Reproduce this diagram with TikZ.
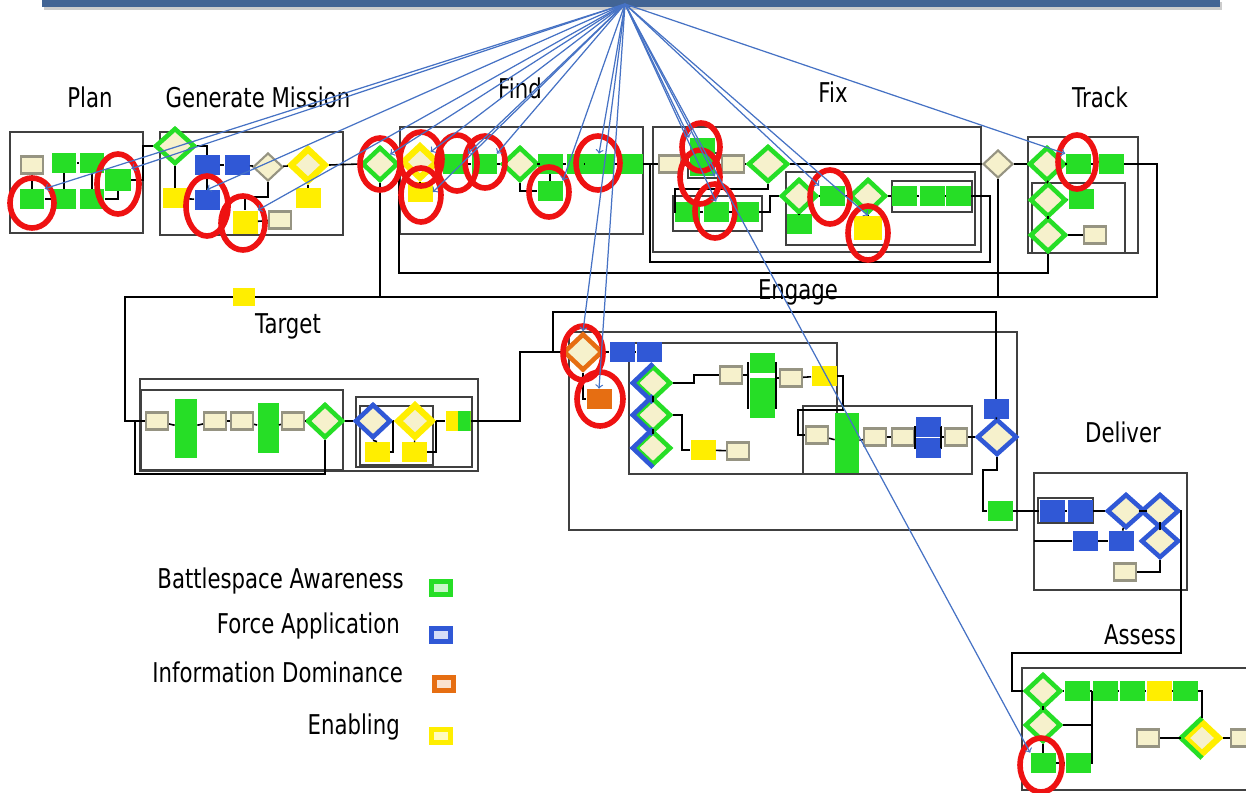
\documentclass[tikz,border=0pt]{standalone}
\usepackage{fontspec}
\setmainfont{DejaVu Sans}[FakeStretch=0.78]
\usetikzlibrary{shapes.geometric}
\definecolor{bagreen}{RGB}{38,222,38}
\definecolor{fablue}{RGB}{48,88,214}
\definecolor{idorange}{RGB}{230,110,18}
\definecolor{enyellow}{RGB}{255,238,0}
\definecolor{tagbeige}{RGB}{246,241,204}
\definecolor{taggray}{RGB}{150,148,130}
\definecolor{cueblue}{RGB}{70,114,196}
\definecolor{ringred}{RGB}{238,18,18}
\definecolor{barblue}{RGB}{66,100,148}

\begin{document}
\begin{tikzpicture}[x=0.02cm, y=-0.02cm,
    box/.style={rectangle, inner sep=0pt, minimum width=0.5cm, minimum height=0.4cm},
    gbox/.style={box, fill=bagreen},
    bbox/.style={box, fill=fablue},
    obox/.style={box, fill=idorange},
    ybox/.style={box, fill=enyellow},
    tag/.style={rectangle, inner sep=0pt, minimum width=0.44cm, minimum height=0.34cm, fill=tagbeige, draw=taggray, line width=1.2pt},
    dia/.style={diamond, inner sep=0pt, minimum width=0.72cm, minimum height=0.68cm, fill=tagbeige, line width=2.6pt},
    gdia/.style={dia, draw=bagreen},
    bdia/.style={dia, draw=fablue},
    odia/.style={dia, draw=idorange},
    ydia/.style={dia, draw=enyellow, line width=3.6pt},
    graydia/.style={dia, draw=taggray, line width=1.2pt, minimum width=0.6cm, minimum height=0.56cm},
    panel/.style={draw=black!75, line width=0.7pt},
    flow/.style={draw=black, line width=0.9pt},
    cue/.style={-{>[scale=1.4]}, draw=cueblue, line width=0.7pt},
    ring/.style={draw=ringred, line width=3.2pt},
    title/.style={font=\fontsize{15.5}{18}\selectfont},
    swatch/.style={rectangle, inner sep=0pt, minimum width=0.38cm, minimum height=0.26cm, line width=3pt}]

\useasboundingbox (0,0) rectangle (1246,792);

% top bar
\fill[black!20] (44,2) rectangle (1222,10);
\fill[barblue] (42,-1) rectangle (1220,7);

% panels
\draw[panel] (10,132) rectangle (143,233);
\draw[panel] (160,132) rectangle (343,235);
\draw[panel] (400,127) rectangle (643,234);
\draw[panel] (653,127) rectangle (981,252);
\draw[panel] (688,153) rectangle (718,178);
\draw[panel] (673,196) rectangle (762,231);
\draw[panel] (786,172) rectangle (975,245);
\draw[panel] (892,181) rectangle (972,212);
\draw[panel] (1028,137) rectangle (1138,253);
\draw[panel] (1032,183) rectangle (1125,253);
\draw[panel] (140,379) rectangle (478,471);
\draw[panel, line width=1.4pt] (141,390) rectangle (343,470);
\draw[panel] (356,397) rectangle (472,467);
\draw[panel] (360,406) rectangle (433,465);
\draw[panel] (569,332) rectangle (1017,530);
\draw[panel] (629,343) rectangle (837,474);
\draw[panel] (803,406) rectangle (972,474);
\draw[panel] (1034,473) rectangle (1187,590);
\draw[panel, line width=1.4pt] (1038,498) rectangle (1093,523);
\draw[panel] (1022,668) rectangle (1250,790);

% titles
\node[title] (tplan) at (90,97) {Plan};
\node[title] (tgen) at (258,97) {Generate Mission};
\node[title] (tfind) at (520,88) {Find};
\node[title] (tfix) at (833,92) {Fix};
\node[title] (ttrack) at (1100,97) {Track};
\node[title] (ttarget) at (288,326) {Target};
\node[title] (tengage) at (798,292) {Engage};
\node[title] (tdeliver) at (1123,432) {Deliver};
\node[title] (tassess) at (1140,635) {Assess};

% Plan
\node[tag] (pl1) at (32,165) {};
\node[gbox] (pl2) at (64,163) {};
\node[gbox] (pl3) at (92,163) {};
\node[gbox, minimum width=0.52cm, minimum height=0.44cm] (pl4) at (118,180) {};
\node[gbox] (pl5) at (32,199) {};
\node[gbox] (pl6) at (64,199) {};
\node[gbox] (pl7) at (92,199) {};

% Generate Mission
\node[gdia, minimum width=0.8cm, minimum height=0.72cm] (gm1) at (175,146) {};
\node[bbox] (gm2) at (207,165) {};
\node[bbox] (gm3) at (237,165) {};
\node[graydia] (gm4) at (268,167) {};
\node[ydia] (gm5) at (308,165) {};
\node[ybox] (gm6) at (175,198) {};
\node[bbox] (gm7) at (207,200) {};
\node[ybox, minimum height=0.46cm] (gm8) at (245,222) {};
\node[ybox] (gm9) at (308,198) {};
\node[tag] (gm10) at (280,220) {};

% Find
\node[gdia] (fd1) at (380,164) {};
\node[ydia] (fd2) at (420,162) {};
\node[ybox] (fd3) at (420,192) {};
\node[gbox] (fd4) at (455,164) {};
\node[gbox] (fd5) at (484,164) {};
\node[gdia] (fd6) at (520,164) {};
\node[gbox] (fd7) at (550,164) {};
\node[gbox] (fd8) at (550,191) {};
\node[gbox, minimum width=0.34cm] (fd9) at (575,164) {};
\node[gbox, minimum width=0.6cm] (fd10) at (599,164) {};
\node[gbox] (fd11) at (630,164) {};

% Fix
\node[tag] (fx1) at (670,164) {};
\node[gbox] (fx2) at (702,148) {};
\node[gbox] (fx3) at (702,166) {};
\node[tag] (fx4) at (733,164) {};
\node[gdia, minimum width=0.8cm, minimum height=0.72cm] (fx5) at (768,164) {};
\node[gbox] (fx6) at (687,212) {};
\node[gbox] (fx7) at (716,212) {};
\node[gbox] (fx8) at (746,212) {};
\node[gdia] (fx9) at (799,196) {};
\node[gbox] (fx10) at (799,224) {};
\node[gbox] (fx11) at (832,196) {};
\node[gdia] (fx12) at (868,196) {};
\node[ybox, minimum width=0.56cm, minimum height=0.48cm] (fx13) at (868,228) {};
\node[gbox] (fx14) at (904,196) {};
\node[gbox] (fx15) at (932,196) {};
\node[gbox] (fx16) at (958,196) {};
\node[graydia] (fx17) at (998,164) {};

% Track
\node[gdia] (tk1) at (1047,164) {};
\node[gbox] (tk2) at (1078,164) {};
\node[gbox] (tk3) at (1111,164) {};
\node[gdia] (tk4) at (1048,200) {};
\node[gbox] (tk5) at (1081,199) {};
\node[gdia] (tk6) at (1048,235) {};
\node[tag] (tk7) at (1095,235) {};

% Target
\node[tag] (tg1) at (157,421) {};
\node[gbox, minimum width=0.44cm, minimum height=1.18cm] (tg2) at (186,428) {};
\node[tag] (tg3) at (215,421) {};
\node[tag] (tg4) at (242,421) {};
\node[gbox, minimum width=0.42cm, minimum height=1cm] (tg5) at (268,428) {};
\node[tag] (tg6) at (293,421) {};
\node[gdia] (tg7) at (325,421) {};
\node[bdia] (tg8) at (373,421) {};
\node[ydia] (tg9) at (415,421) {};
\node[ybox] (tg10) at (377,452) {};
\node[ybox] (tg11) at (414,452) {};
\node[ybox, path picture={\fill[bagreen] (path picture bounding box.south) rectangle (path picture bounding box.north east);}] (tg12) at (458,421) {};

% Engage
\node[odia, minimum width=0.78cm, minimum height=0.74cm] (en1) at (583,352) {};
\node[obox] (en2) at (599,399) {};
\node[bbox] (en3) at (622,352) {};
\node[bbox] (en4) at (649,352) {};
\node[gdia] (en5) at (653,383) {};
\node[gdia] (en6) at (653,415) {};
\node[gdia] (en7) at (653,448) {};
\node[tag] (en8) at (731,375) {};
\node[gbox] (en9) at (762,363) {};
\node[gbox] (en10) at (762,388) {};
\node[gbox] (en11) at (762,408) {};
\node[tag] (en12) at (791,378) {};
\node[ybox] (en13) at (824,376) {};
\node[ybox] (en14) at (703,450) {};
\node[tag] (en15) at (738,451) {};
\node[tag] (en16) at (817,435) {};
\node[gbox, minimum width=0.48cm, minimum height=1.2cm] (en17) at (847,443) {};
\node[tag] (en18) at (875,437) {};
\node[tag] (en19) at (903,437) {};
\node[bbox] (en20) at (928,427) {};
\node[bbox] (en21) at (928,448) {};
\node[tag] (en22) at (956,437) {};
\node[bbox] (en23) at (996,409) {};
\node[bdia, minimum width=0.8cm, minimum height=0.72cm] (en24) at (997,437) {};
\node[gbox] (en25) at (1000,511) {};
\draw[fablue, line width=2.6pt] (en5.north) -- (en5.west) -- (en5.south);
\draw[fablue, line width=2.6pt] (en6.north) -- (en6.west) -- (en6.south);
\draw[fablue, line width=2.6pt] (en7.north) -- (en7.west) -- (en7.south);

% Deliver
\node[bbox, minimum height=0.44cm] (dl1) at (1052,511) {};
\node[bbox, minimum height=0.44cm] (dl2) at (1080,511) {};
\node[bdia, minimum width=0.76cm] (dl3) at (1126,511) {};
\node[bdia, minimum width=0.76cm] (dl4) at (1160,511) {};
\node[bdia, minimum width=0.76cm] (dl5) at (1160,541) {};
\node[bbox] (dl6) at (1085,541) {};
\node[bbox] (dl7) at (1121,541) {};
\node[tag] (dl8) at (1125,572) {};

% Assess
\node[gdia] (as1) at (1043,691) {};
\node[gbox] (as2) at (1077,691) {};
\node[gbox] (as3) at (1105,691) {};
\node[gbox] (as4) at (1132,691) {};
\node[ybox] (as5) at (1159,691) {};
\node[gbox] (as6) at (1185,691) {};
\node[gdia] (as7) at (1043,725) {};
\node[gbox] (as8) at (1043,763) {};
\node[gbox] (as9) at (1078,763) {};
\node[ydia] (as10) at (1202,738) {};
\node[tag] (as11) at (1148,738) {};
\node[tag] (as12) at (1242,738) {};
\draw[bagreen, line width=2.6pt] (as10.north) -- (as10.west) -- (as10.south);

% flows: Plan, Generate Mission
\draw[flow] (pl1) -- (pl5);
\draw[flow] (pl5) -- (pl6);
\draw[flow] (pl2) -- (pl3);
\draw[flow] (pl2) -- (pl6);
\draw[flow] (pl3) -- (pl7);
\draw[flow] (pl7.east) -| (pl4.south);
\draw[flow] (pl4.east) -- (143,180) |- (gm1.west);
\draw[flow] (gm1.east) -| (gm2.north);
\draw[flow] (gm2) -- (gm3);
\draw[flow] (gm3) -- (gm4);
\draw[flow] (gm4) -- (gm5);
\draw[flow] (gm1.south) -- (gm6.north);
\draw[flow] (gm6) -- (gm7);
\draw[flow] (gm2) -- (gm7);
\draw[flow] (gm4.south) |- (245,197) -- (gm8.north);
\draw[flow] (gm8) -- (gm10);
\draw[flow] (gm5.south) -- (gm9.north);
\draw[flow] (gm5.east) -- (fd1.west);

% flows: Find, Fix, Track
\draw[flow] (fd1) -- (fd2);
\draw[flow] (fd2) -- (fd4);
\draw[flow] (fd4) -- (fd5);
\draw[flow] (fd5) -- (fd6);
\draw[flow] (fd6) -- (fd7);
\draw[flow] (fd7) -- (fd9);
\draw[flow] (fd9) -- (fd10);
\draw[flow] (fd10) -- (fd11);
\draw[flow] (fd2.south) -- (fd3.north);
\draw[flow] (fd6.south) |- (fd8.west);
\draw[flow] (fd7) -- (fd8);
\draw[flow] (fd11) -- (fx1);
\draw[flow] (fx1) -- (fx3);
\draw[flow] (fx3) -- (fx4);
\draw[flow] (fx4) -- (fx5);
\draw[flow] (fx5) -- (fx17);
\draw[flow] (fx17) -- (tk1);
\draw[flow] (fx5.south) |- (675,189) |- (fx6.west);
\draw[flow] (fx6) -- (fx7);
\draw[flow] (fx7) -- (fx8);
\draw[flow] (fx8.east) -- (770,212) |- (fx9.west);
\draw[flow] (fx9) -- (fx11);
\draw[flow] (fx11) -- (fx12);
\draw[flow] (fx12) -- (fx14);
\draw[flow] (fx14) -- (fx15);
\draw[flow] (fx15) -- (fx16);
\draw[flow] (fx9.south) -- (fx10.north);
\draw[flow] (fx12.south) -- (fx13.north);
\draw[flow] (fx16.east) -- (990,196) -- (990,262) -- (650,262) -- (650,164);
\draw[flow] (tk1) -- (tk2);
\draw[flow] (tk2) -- (tk3);
\draw[flow] (tk1.south) -- (tk4.north);
\draw[flow] (tk4.south) -- (tk6.north);
\draw[flow] (tk4) -- (tk5);
\draw[flow] (tk6) -- (tk7);
\draw[flow] (tk6.south) -- (1048,273) -- (399,273) -- (399,164);

% long return line
\draw[flow] (tk3.east) -- (1157,164) -- (1157,297) -- (125,297) -- (125,421) -- (tg1.west);
\draw[flow] (fd1.south) -- (380,297);
\draw[flow] (fx17.south) -- (998,297);
\node[ybox, minimum width=0.44cm, minimum height=0.36cm] (tg13) at (244,297) {};

% flows: Target
\draw[flow] (tg1) -- (tg2);
\draw[flow] (tg2) -- (tg3);
\draw[flow] (tg3) -- (tg4);
\draw[flow] (tg4) -- (tg5);
\draw[flow] (tg5) -- (tg6);
\draw[flow] (tg6) -- (tg7);
\draw[flow] (tg7) -- (tg8);
\draw[flow] (tg8) -- (tg9);
\draw[flow] (tg9) -- (tg12);
\draw[flow] (tg8.south) -- (tg10.north);
\draw[flow] (tg10.east) -| (tg8.east);
\draw[flow] (tg9.south) -- (tg11.north);
\draw[flow] (tg11.east) -| (tg9.east);
\draw[flow] (tg7.south) -- (325,474) -- (135,474) -- (135,421);
\draw[flow] (tg12.east) -- (520,421) |- (en1.west);

% flows: Engage
\draw[flow] (en23.north) |- (553,312) |- (en1.west);
\draw[flow] (en1) -- (en3);
\draw[flow] (en3) -- (en4);
\draw[flow] (en1.south) |- (en2.west);
\draw[flow] (en5) -- (en6);
\draw[flow] (en6) -- (en7);
\draw[flow] (en5.east) -- (694,383) |- (en8.west);
\draw[flow] (en8.east) -- (748,375);
\draw[flow] (en9.west) -| (748,408) -- (en11.west);
\draw[flow] (748,388) -- (en10.west);
\draw[flow] (en9.east) -| (776,408) -- (en11.east);
\draw[flow] (776,378) -- (en12.west);
\draw[flow] (en12) -- (en13);
\draw[flow] (en13.east) -- (843,376) |- (798,410) |- (en16.west);
\draw[flow] (en6.east) -- (682,415) |- (en14.west);
\draw[flow] (en14) -- (en15);
\draw[flow] (en16) -- (en17);
\draw[flow] (en17) -- (en18);
\draw[flow] (en18) -- (en19);
\draw[flow] (en19.east) -| (915,427) -- (en20.west);
\draw[flow] (915,437) |- (en21.west);
\draw[flow] (en20.east) -| (941,448) -- (en21.east);
\draw[flow] (941,437) -- (en22.west);
\draw[flow] (en22) -- (en24);
\draw[flow] (en23) -- (en24);
\draw[flow] (en24.south) |- (983,470) |- (en25.west);
\draw[flow] (en25) -- (dl1);

% flows: Deliver, Assess
\draw[flow] (dl1) -- (dl2);
\draw[flow] (dl2) -- (dl3);
\draw[flow] (dl3) -- (dl4);
\draw[flow] (dl4) -- (dl5);
\draw[flow] (dl5.east) -- (1181,541);
\draw[flow] (1034,541) -- (dl6.west);
\draw[flow] (dl6) -- (dl7);
\draw[flow] (dl7) -- (dl3);
\draw[flow] (dl5.south) |- (dl8.east);
\draw[flow] (dl4.east) -- (1181,511) -- (1181,653) -- (1012,653) |- (as1.west);
\draw[flow] (as1) -- (as2);
\draw[flow] (as2) -- (as3);
\draw[flow] (as3) -- (as4);
\draw[flow] (as4) -- (as5);
\draw[flow] (as5) -- (as6);
\draw[flow] (as6.east) -| (as10.north);
\draw[flow] (as1) -- (as7);
\draw[flow] (as7) -- (as8);
\draw[flow] (as8) -- (as9);
\draw[flow] (as9.east) -- (1092,763) -- (1092,691);
\draw[flow] (as7.east) -- (1092,725);
\draw[flow] (as11) -- (as10);
\draw[flow] (as10) -- (as12);

% red rings
\draw[ring] ([shift={(0,4)}]pl5) ellipse [x radius=0.44cm, y radius=0.5cm];
\draw[ring] ([shift={(0,4)}]pl4) ellipse [x radius=0.42cm, y radius=0.6cm];
\draw[ring] ([shift={(0,6)}]gm7) ellipse [x radius=0.42cm, y radius=0.6cm];
\draw[ring] ([shift={(-2,1)}]gm8) ellipse [x radius=0.44cm, y radius=0.54cm];
\draw[ring] (fd1) ellipse [x radius=0.4cm, y radius=0.52cm];
\draw[ring] ([shift={(1,-3)}]fd2) ellipse [x radius=0.42cm, y radius=0.54cm];
\draw[ring] ([shift={(1,3)}]fd3) ellipse [x radius=0.4cm, y radius=0.54cm];
\draw[ring] ([shift={(2,-1)}]fd4) ellipse [x radius=0.4cm, y radius=0.56cm];
\draw[ring] ([shift={(1,-2)}]fd5) ellipse [x radius=0.4cm, y radius=0.52cm];
\draw[ring] ([shift={(-1,1)}]fd8) ellipse [x radius=0.4cm, y radius=0.5cm];
\draw[ring] ([shift={(-1,-1)}]fd10) ellipse [x radius=0.44cm, y radius=0.54cm];
\draw[ring] ([shift={(-1,-1)}]fx2) ellipse [x radius=0.38cm, y radius=0.48cm];
\draw[ring] ([shift={(-2,11)}]fx3) ellipse [x radius=0.4cm, y radius=0.54cm];
\draw[ring] ([shift={(-1,-1)}]fx7) ellipse [x radius=0.4cm, y radius=0.54cm];
\draw[ring] ([shift={(-2,1)}]fx11) ellipse [x radius=0.4cm, y radius=0.54cm];
\draw[ring] ([shift={(0,5)}]fx13) ellipse [x radius=0.4cm, y radius=0.54cm];
\draw[ring] ([shift={(-1,-2)}]tk2) ellipse [x radius=0.38cm, y radius=0.54cm];
\draw[ring] ([shift={(0,1)}]en1) ellipse [x radius=0.4cm, y radius=0.54cm];
\draw[ring] ([shift={(1,0)}]en2) ellipse [x radius=0.46cm, y radius=0.54cm];
\draw[ring] ([shift={(-2,2)}]as8) ellipse [x radius=0.42cm, y radius=0.54cm];

% cue arrows from the bar
\coordinate (hub) at (625,4);
\draw[cue] (hub) -- (pl5.north east);
\draw[cue] (hub) -- (pl4.north east);
\draw[cue] (hub) -- (gm7.north);
\draw[cue] (hub) -- (gm8.north east);
\draw[cue] (hub) -- (fd1.north east);
\draw[cue] (hub) -- (fd2.north east);
\draw[cue] (hub) -- (fd4.north east);
\draw[cue] (hub) -- (fd5.north east);
\draw[cue] (hub) -- (fd3.east);
\draw[cue] (hub) -- (fd8.north east);
\draw[cue] (hub) -- (fd10.north);
\draw[cue] (hub) -- (fx2.north west);
\draw[cue] (hub) -- (fx3.south east);
\draw[cue] (hub) -- (fx7.north);
\draw[cue] (hub) -- (fx11.north west);
\draw[cue] (hub) -- (fx13.north);
\draw[cue] (hub) -- (tk2.north west);
\draw[cue] (hub) -- (en1.north);
\draw[cue] (hub) -- (en2.north);
\draw[cue] (hub) -- (as8.north west);

% legend
\node[title, anchor=east] (lba) at (410,581) {Battlespace Awareness};
\node[title, anchor=east] (lfa) at (406,626) {Force Application};
\node[title, anchor=east] (lid) at (409,672) {Information Dominance};
\node[title, anchor=east] (len) at (406,727) {Enabling};
\node[swatch, draw=bagreen, fill=bagreen!25] (sba) at (441,588) {};
\node[swatch, draw=fablue, fill=fablue!20] (sfa) at (441,635) {};
\node[swatch, draw=idorange, fill=idorange!20] (sid) at (444,684) {};
\node[swatch, draw=enyellow, fill=enyellow!25] (sen) at (441,736) {};
\end{tikzpicture}
\end{document}
